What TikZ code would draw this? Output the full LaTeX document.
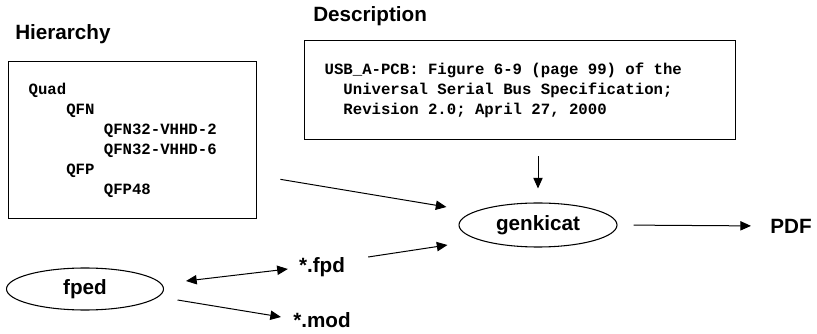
\documentclass[tikz,border=0pt]{standalone}
\usepackage{fontspec}
\setmainfont{Liberation Sans}
\newfontfamily\codefont{Liberation Mono}[WordSpace={1,0,0}]
\usetikzlibrary{shapes.geometric,arrows.meta,calc}

\begin{document}
\begin{tikzpicture}[x=0.75pt,y=-0.75pt,
                    heading/.style={font=\fontsize{15.5}{18}\selectfont\bfseries,anchor=base west,inner sep=0pt},
                    listbox/.style={draw,line width=1pt,anchor=north west,align=left,inner xsep=15pt,inner ysep=0pt,
                                    font=\fontsize{11.75}{15}\selectfont\codefont\bfseries},
                    tool/.style={draw,ellipse,line width=0.8pt,inner sep=0pt,font=\fontsize{15.5}{18}\selectfont\bfseries},
                    file/.style={font=\fontsize{15.5}{18}\selectfont\bfseries},
                    flow/.style={-{Triangle[length=8pt,width=7pt]},line width=0.75pt},
                    twoway/.style={{Triangle[length=8pt,width=7pt]}-{Triangle[length=8pt,width=7pt]},line width=0.75pt}]
                    \useasboundingbox (0,0) rectangle (817,334);
                    % titles
                    \node[heading] (hiertitle) at (15,40) {Hierarchy};
                    \node[heading] (desctitle) at (313,22) {Description};
                    % boxes
                    \node[listbox,text width=156pt,minimum height=117.75pt] (hier) at (8,61)
                        {Quad\\
                         \hspace*{2.4em}QFN\\
                         \hspace*{4.8em}QFN32-VHHD-2\\
                         \hspace*{4.8em}QFN32-VHHD-6\\
                         \hspace*{2.4em}QFP\\
                         \hspace*{4.8em}QFP48};
                    \node[listbox,text width=293.25pt,minimum height=74.25pt] (desc) at (304,40)
                        {\spaceskip=0.6em\relax
                         USB\_A-PCB: Figure 6-9 (page 99) of the\\
                         \hspace*{1.2em}Universal Serial Bus Specification;\\
                         \hspace*{1.2em}Revision 2.0; April 27, 2000};
                    % tools and files
                    \node[tool,minimum width=118.5pt,minimum height=33pt] (genkicat) at (538,225) {genkicat};
                    \node[tool,minimum width=117.75pt,minimum height=31.5pt] (fped) at (85,289) {fped};
                    \node[file] (pdf) at (791,226) {PDF};
                    \node[file] (fpd) at (322,267) {*.fpd};
                    \node[file] (mod) at (322,320) {*.mod};
                    % arrows
                    \draw[flow] ([shift={(23,-40)}]hier.south east) -- ([shift={(-12,-18)}]genkicat.west);
                    \draw[flow,shorten >=10.5pt] ($(desc.south -| genkicat.north)+(0,16)$) -- (genkicat.north);
                    \draw[flow,shorten <=12pt,shorten >=11pt] (genkicat.east) -- (pdf.west);
                    \draw[flow] ([shift={(18.5,-10)}]fpd.east) -- ([shift={(-11,20)}]genkicat.west);
                    \draw[twoway] ([shift={(22,-8)}]fped.east) -- ([shift={(-6.5,2)}]fpd.west);
                    \draw[flow] ([shift={(13.5,11)}]fped.east) -- ([shift={(-7.6,-3)}]mod.west);
\end{tikzpicture}
\end{document}
